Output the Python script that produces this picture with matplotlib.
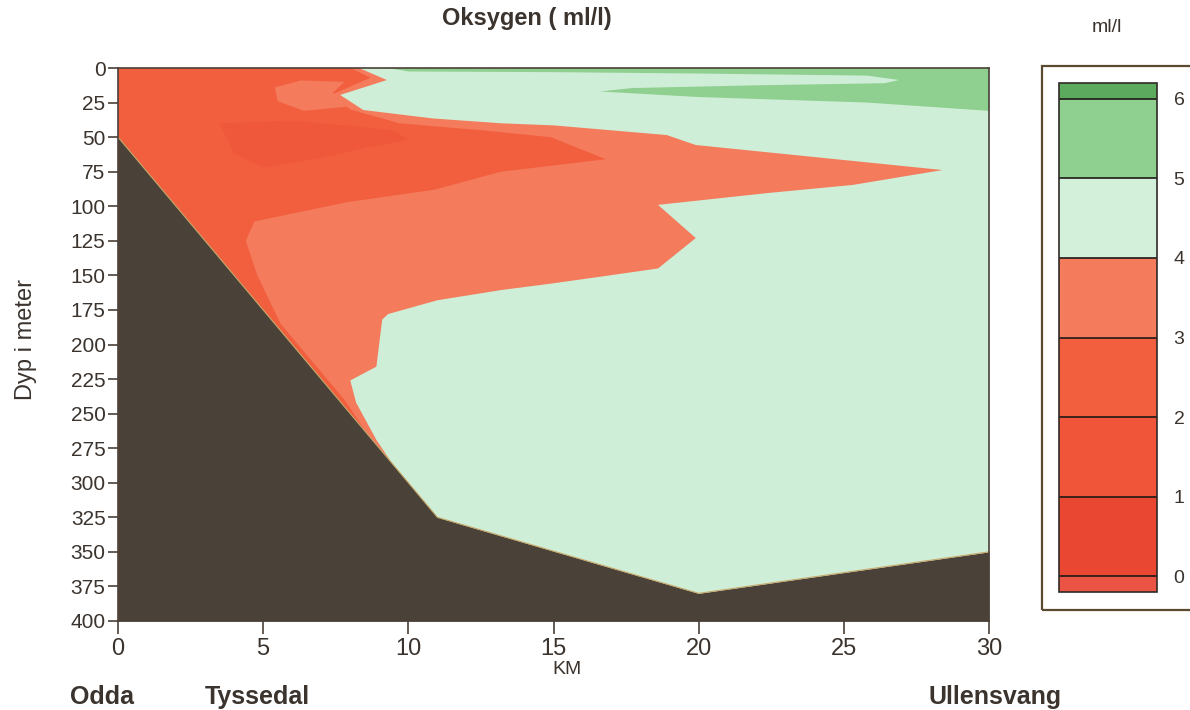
import matplotlib
matplotlib.use("Agg")
import matplotlib.pyplot as plt
from matplotlib.colors import ListedColormap, BoundaryNorm
from matplotlib.cm import ScalarMappable
from matplotlib.patches import Rectangle

plt.rcParams['font.family'] = ['Liberation Sans', 'DejaVu Sans']

# Bunnprofil langs fjorden (km fra Odda, dyp i meter)
bunn_km = [0, 11, 20, 30]
bunn_m = [50, 325, 380, 350]

# Omriss av omraadet med under 4 ml/l
o4_km = [0, 8.3, 9.26, 7.65, 8.45, 10.85, 13.2, 15.0, 18.9, 19.9, 28.4, 25.3, 22.4, 18.6,
         19.9, 18.6, 16.6, 14.9, 13.2, 11.0, 9.3, 9.1, 8.9, 8.0, 8.2, 8.9, 9.6, 0]
o4_m = [0, 0, 8.7, 19.5, 30.4, 36.5, 40, 41.5, 48.5, 55.7, 73.8, 84.6, 90.4, 99,
        123, 145, 151, 156, 160.6, 168, 178, 182, 216, 226, 242, 269, 291, 400]

# Omriss av omraadet med under 3 ml/l
o3_km = [0, 8.0, 8.7, 7.4, 8.0, 9.7, 12.5, 14.9, 16.8, 13.2, 10.9, 7.9, 4.7, 4.4,
         4.8, 5.6, 6.8, 7.8, 8.6, 9.6, 0]
o3_m = [0, 0, 7, 19, 30, 40, 45, 50, 66, 75, 88, 97, 111, 125,
        150, 185, 215, 240, 265, 291, 400]

# Lysere flekk (3-4 ml/l) naer overflaten
flekk_km = [5.4, 6.3, 7.8, 7.4, 7.9, 6.4, 5.5]
flekk_m = [14, 9, 10, 18, 28, 31, 24]

# Kjerne med under 2 ml/l
o2_km = [3.5, 6.0, 9.5, 10.0, 8.5, 7.0, 5.0, 4.0]
o2_m = [40, 38, 45, 52, 58, 65, 72, 62]

# Omraadet med over 5 ml/l i overflatelaget
o5_km = [9.3, 30, 30, 25.8, 20.0, 16.6, 17.7, 22.0, 26.4, 26.9, 25.8, 20.0, 15.0, 10.0]
o5_m = [0, 0, 31, 25, 21, 17, 14.5, 12.5, 11, 8.7, 5.5, 4, 3, 2.5]

# Fargeskala
nivaa = [-0.2, 0, 1, 2, 3, 4, 5, 6, 6.2]
farger = ['#EB5444', '#E94731', '#F0553A', '#F25F3E', '#F47B5C', '#D2F0DA', '#8FD090', '#5BAA5E']
etiketter = [0, 1, 2, 3, 4, 5, 6]

km_ticks = [0, 5, 10, 15, 20, 25, 30]
dyp_ticks = list(range(0, 401, 25))

tekst = '#3b332d'
ramme = '#4a4038'

fig = plt.figure(figsize=(11.9, 7.1), dpi=100)
ax = fig.add_axes([118 / 1190, 1 - 621 / 710, 871 / 1190, 553 / 710])
ax.set_facecolor('#CFEED7')

ax.fill(o4_km, o4_m, color=farger[4], lw=0)
ax.fill(o3_km, o3_m, color=farger[3], lw=0)
ax.fill(flekk_km, flekk_m, color=farger[4], lw=0)
ax.fill(o2_km, o2_m, color='#F0583B', lw=0)
ax.fill(o5_km, o5_m, color=farger[6], lw=0)

# Bunnen
ax.fill_between(bunn_km, bunn_m, 400, color='#4A4238', lw=0, zorder=3)
ax.plot(bunn_km, bunn_m, color='#c9a86a', lw=0.8, zorder=3)

ax.set_xlim(0, 30)
ax.set_ylim(400, 0)
ax.set_xticks(km_ticks)
ax.set_yticks(dyp_ticks)
ax.tick_params(axis='x', length=9, width=1.2, color=ramme, labelsize=17, labelcolor=tekst, pad=3)
ax.tick_params(axis='y', length=7, width=1.2, color=ramme, labelsize=15, labelcolor=tekst, pad=2)
for s in ax.spines.values():
    s.set_color(ramme)
    s.set_linewidth(1.2)
    s.set_zorder(5)

fig.text(26 / 1190, 1 - 340 / 710, 'Dyp i meter', rotation=90, ha='center', va='center',
         fontsize=17, color=tekst)
fig.text(527 / 1190, 1 - 18 / 710, 'Oksygen ( ml/l)', ha='center', va='center',
         fontsize=17, weight='bold', color=tekst)
fig.text(567 / 1190, 1 - 669 / 710, 'KM', ha='center', va='center', fontsize=14, color=tekst)
fig.text(70 / 1190, 1 - 697 / 710, 'Odda', ha='left', va='center', fontsize=18, weight='bold', color=tekst)
fig.text(205 / 1190, 1 - 697 / 710, 'Tyssedal', ha='left', va='center', fontsize=18, weight='bold', color=tekst)
fig.text(928 / 1190, 1 - 697 / 710, 'Ullensvang', ha='left', va='center', fontsize=18, weight='bold', color=tekst)
fig.text(1107 / 1190, 1 - 28 / 710, 'ml/l', ha='center', va='center', fontsize=14, color=tekst)

# Ramme rundt fargeskalaen
fig.patches.append(Rectangle((1042 / 1190, 1 - 610 / 710), 0.2, 544 / 710, transform=fig.transFigure,
                             fill=False, edgecolor='#5a4a30', lw=1.6))

cax = fig.add_axes([1059 / 1190, 1 - 592 / 710, 98 / 1190, 509 / 710])
norm = BoundaryNorm(nivaa, len(farger))
cb = fig.colorbar(ScalarMappable(norm=norm, cmap=ListedColormap(farger)), cax=cax,
                  boundaries=nivaa, ticks=etiketter, spacing='proportional', drawedges=True)
cb.outline.set_edgecolor('#2e2a26')
cb.outline.set_linewidth(1.2)
cb.dividers.set_color('#1e1a16')
cb.dividers.set_linewidth(1.2)
cax.minorticks_off()
cax.tick_params(which='both', length=0, labelsize=14, labelcolor=tekst, pad=12)

fig.savefig('out.png', dpi=100)
